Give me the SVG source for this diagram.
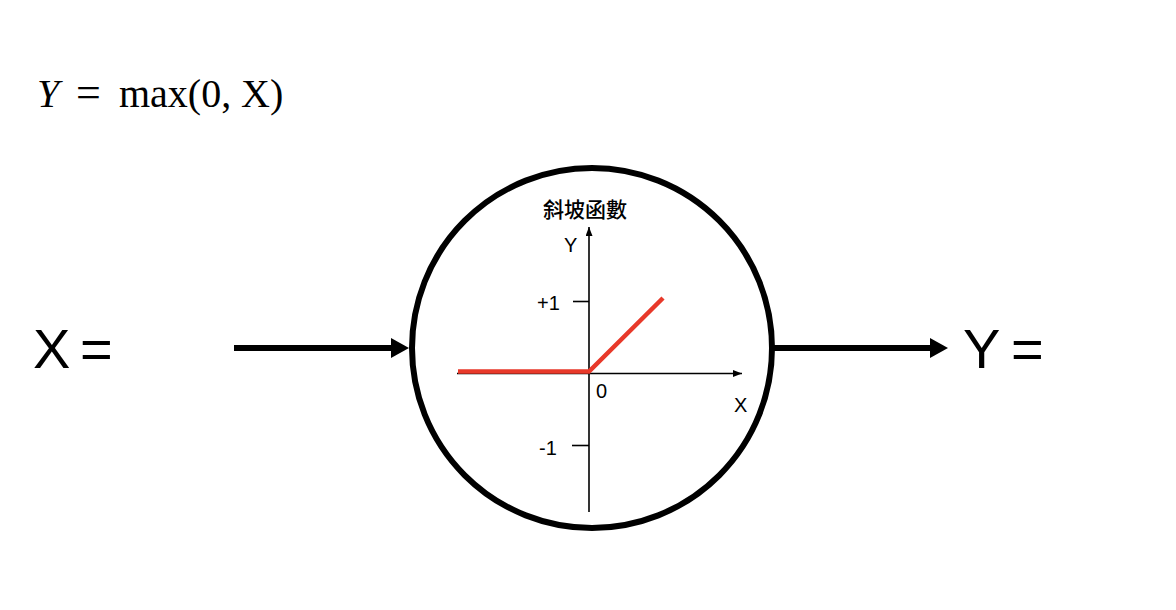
<svg xmlns="http://www.w3.org/2000/svg" width="1176" height="610" viewBox="0 0 1176 610">
<defs>
<style>
.big{font-family:"Liberation Sans",Arial,sans-serif;font-size:56px;fill:#000}
.small{font-family:"Liberation Sans",Arial,sans-serif;font-size:20px;fill:#000}
.math{font-family:"Liberation Serif","Times New Roman",serif;font-size:40px;fill:#000}
.cjk{font-family:"Noto Sans CJK TC","Noto Sans CJK SC",sans-serif;font-size:21px;font-weight:500;fill:#000}
.axis{stroke:#000;stroke-width:1.6;fill:none}
.conn{stroke:#000;stroke-width:6;fill:none}
</style>
<marker id="bigArrow" viewBox="0 0 18 20" refX="0" refY="10" markerWidth="18" markerHeight="20" markerUnits="userSpaceOnUse" orient="auto">
<path d="M0,0 L18,10 L0,20 Z" fill="#000"/>
</marker>
<marker id="smallArrow" viewBox="0 0 9 7" refX="9" refY="3.5" markerWidth="9" markerHeight="7" markerUnits="userSpaceOnUse" orient="auto">
<path d="M0,0 L9,3.5 L0,7 Z" fill="#000"/>
</marker>
</defs>
<rect width="1176" height="610" fill="#fff"/>

<g id="formula">
<text class="math" y="107"><tspan x="37" font-style="italic">Y</tspan><tspan x="76" font-size="44">=</tspan><tspan x="119">max(0,</tspan><tspan x="241">X)</tspan></text>
</g>

<g id="input">
<text class="big" x="33" y="368">X</text>
<text class="big" x="80" y="368">=</text>
</g>

<g id="output">
<text class="big" x="963" y="368">Y</text>
<text class="big" x="1011" y="368">=</text>
</g>

<g id="connectors">
<line class="conn" x1="234" y1="348" x2="391" y2="348" marker-end="url(#bigArrow)"/>
<line class="conn" x1="774" y1="348" x2="930" y2="348" marker-end="url(#bigArrow)"/>
</g>

<g id="neuron">
<circle cx="592" cy="348" r="180" fill="none" stroke="#000" stroke-width="6"/>
<text class="cjk" x="543" y="217">斜坡函數</text>
<line class="axis" x1="589" y1="512" x2="589" y2="227" marker-end="url(#smallArrow)"/>
<line class="axis" x1="457" y1="373.5" x2="742" y2="373.5" marker-end="url(#smallArrow)"/>
<line class="axis" x1="573" y1="301.5" x2="589" y2="301.5"/>
<line class="axis" x1="572" y1="445.5" x2="589" y2="445.5"/>
<text class="small" x="564" y="252">Y</text>
<text class="small" x="537" y="310">+1</text>
<text class="small" x="539" y="455">-1</text>
<text class="small" x="596" y="398">0</text>
<text class="small" x="734" y="412">X</text>
<polyline points="458,371.5 589,371.5 663,298" fill="none" stroke="#e8392a" stroke-width="4.5"/>
</g>
</svg>
